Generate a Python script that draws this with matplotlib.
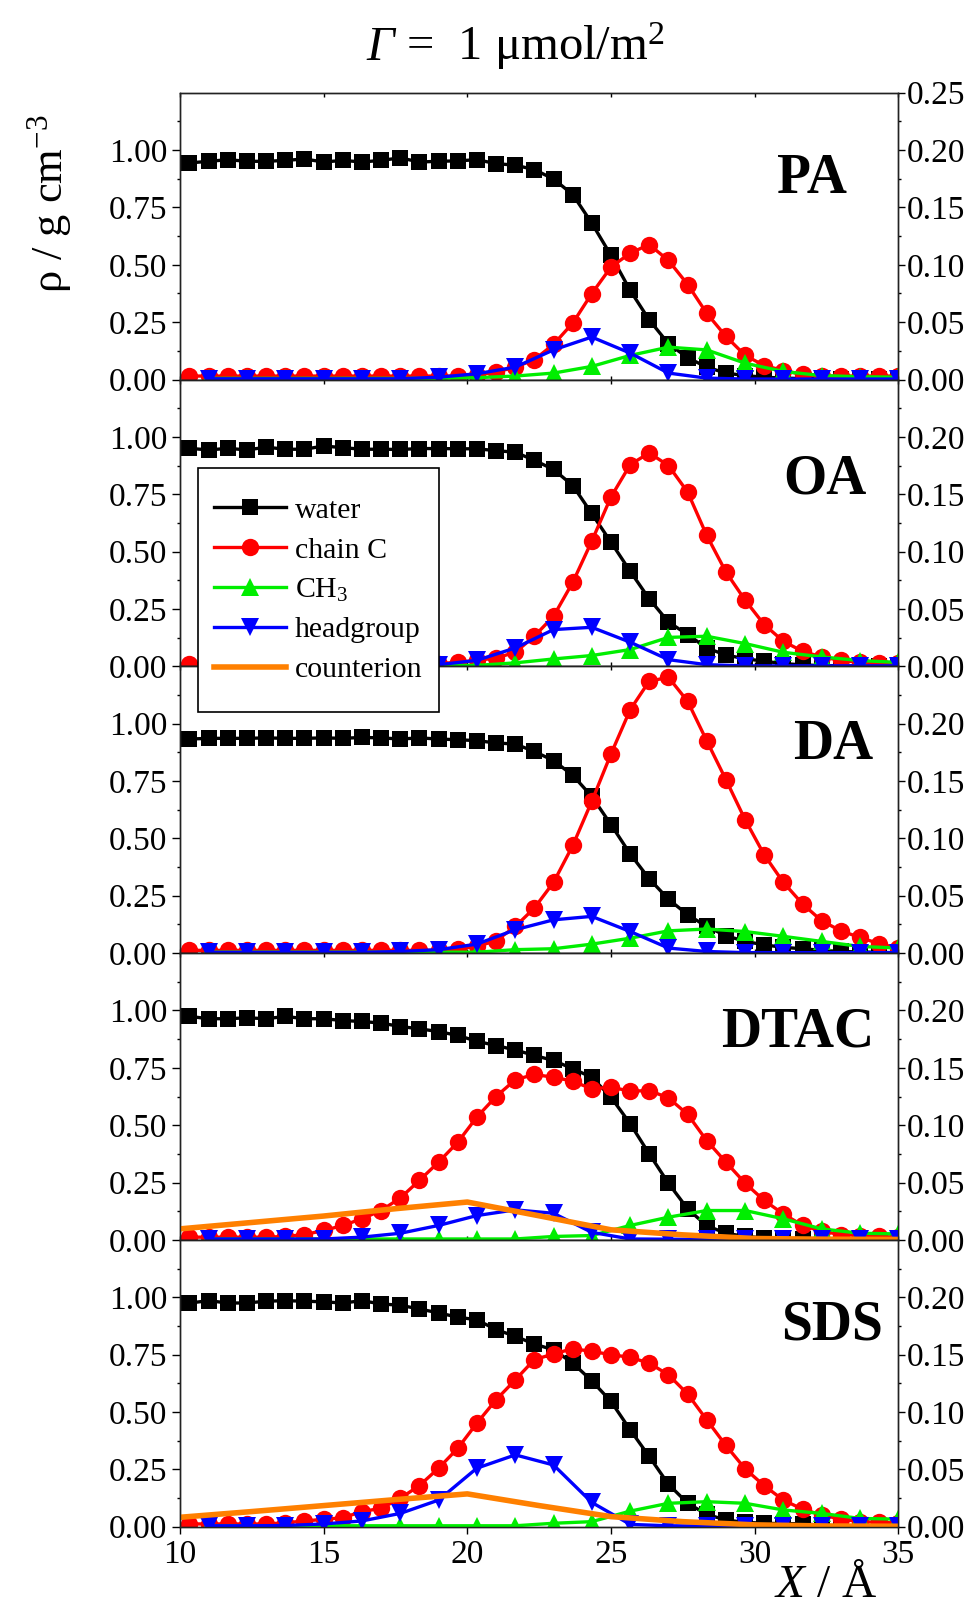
import matplotlib
matplotlib.use("Agg")
import matplotlib.pyplot as plt
from matplotlib.lines import Line2D
from matplotlib.patches import Rectangle

plt.rcParams['font.family'] = ['Liberation Serif', 'DejaVu Serif']
plt.rcParams['mathtext.fontset'] = 'custom'
plt.rcParams['mathtext.rm'] = 'Liberation Serif'
plt.rcParams['mathtext.it'] = 'Liberation Serif:italic'
plt.rcParams['mathtext.bf'] = 'Liberation Serif:bold'

# sampling grids (Å)
x_fine = [10.33, 11.0, 11.67, 12.33, 13.0, 13.67, 14.33, 15.0, 15.67, 16.33,
          17.0, 17.67, 18.33, 19.0, 19.67, 20.33, 21.0, 21.67, 22.33, 23.0,
          23.67, 24.33, 25.0, 25.67, 26.33, 27.0, 27.67, 28.33, 29.0, 29.67,
          30.33, 31.0, 31.67, 32.33, 33.0, 33.67, 34.33, 35.0]
x_coarse = [11.0, 12.33, 13.67, 15.0, 16.33, 17.67, 19.0, 20.33, 21.67, 23.0,
            24.33, 25.67, 27.0, 28.33, 29.67, 31.0, 32.33, 33.67, 35.0]
x_ion = [10, 12.5, 15, 17.5, 20, 22.5, 25, 27.5, 30, 32.5, 35]

# left axis: water and chain C density
pa_water = [.944, .951, .958, .951, .951, .955, .961, .948, .955, .948, .955, .966, .948, .951,
            .953, .958, .941, .934, .915, .874, .806, .682, .541, .388, .260, .156, .095, .054,
            .028, .017, .010, .006, .004, .003, .002, .001, .001, .001]
pa_chain = [.015, .015, .015, .015, .015, .015, .015, .015, .015, .015, .015, .015, .015, .015,
            .015, .020, .032, .054, .086, .153, .246, .374, .490, .551, .588, .519, .414, .289,
            .188, .105, .061, .039, .022, .015, .015, .015, .015, .015]
oa_water = [.950, .943, .950, .943, .955, .946, .946, .960, .953, .946, .946, .945, .949, .949,
            .948, .948, .940, .933, .898, .858, .788, .666, .541, .414, .294, .193, .138, .080,
            .049, .033, .022, .012, .006, .003, .002, .001, .001, .001]
oa_chain = [.012, .012, .012, .012, .012, .012, .012, .012, .012, .012, .012, .012, .012, .012,
            .017, .026, .036, .061, .131, .218, .366, .545, .738, .879, .930, .875, .759, .571,
            .411, .288, .182, .109, .065, .041, .026, .017, .015, .013]
da_water = [.933, .936, .936, .936, .938, .936, .936, .938, .936, .940, .938, .933, .938, .933,
            .930, .926, .916, .911, .879, .839, .775, .683, .560, .432, .324, .235, .167, .116,
            .076, .051, .036, .025, .019, .012, .007, .005, .003, .002]
da_chain = [.012, .012, .012, .012, .012, .012, .012, .012, .012, .012, .012, .012, .012, .012,
            .019, .029, .054, .116, .196, .308, .469, .661, .868, 1.061, 1.185, 1.202, 1.097, .926,
            .756, .581, .429, .308, .214, .141, .097, .068, .041, .022]
dtac_water = [.974, .964, .964, .968, .964, .974, .964, .964, .956, .952, .945, .930, .920, .908,
              .891, .866, .847, .828, .804, .782, .746, .709, .622, .506, .375, .247, .135, .062,
              .029, .015, .009, .006, .004, .003, .002, .002, .001, .001]
dtac_chain = [.012, .012, .012, .012, .012, .015, .023, .041, .063, .092, .128, .183, .259, .339,
              .426, .535, .625, .698, .721, .709, .692, .658, .666, .648, .651, .619, .547, .433,
              .339, .247, .172, .113, .063, .038, .023, .019, .015, .012]
sds_water = [.975, .985, .975, .975, .983, .985, .983, .980, .975, .985, .971, .965, .949, .932,
             .913, .902, .859, .830, .796, .771, .713, .636, .546, .422, .306, .185, .102, .054,
             .029, .019, .015, .013, .013, .006, .004, .003, .002, .002]
sds_chain = [.012, .012, .012, .012, .012, .017, .025, .032, .039, .066, .080, .124, .179, .255,
             .342, .451, .553, .640, .728, .753, .776, .764, .750, .738, .713, .662, .578, .466,
             .354, .252, .179, .116, .076, .051, .033, .022, .019, .016]

# right axis: CH3, headgroup, counterion density
pa_ch3 = [.001, .001, .001, .001, .001, .001, .001, .0016, .003, .0056, .0114, .021, .0282,
          .0258, .0142, .007, .0034, .0024, .002]
pa_head = [.0006, .0006, .0006, .0006, .0006, .0006, .002, .005, .0108, .0258, .037, .023,
           .0056, .0012, .0004, .0004, .0004, .0004, .0004]
oa_ch3 = [.0008, .0008, .0008, .0008, .0008, .0008, .0008, .0008, .003, .0064, .0094, .0146,
          .0252, .0262, .0198, .0122, .0082, .005, .0034]
oa_head = [.0006, .0006, .0006, .0006, .0006, .0006, .0014, .0052, .016, .032, .034, .021,
           .0058, .0014, .0004, .0004, .0004, .0004, .0004]
da_ch3 = [.0008, .0008, .0008, .0008, .0008, .0008, .0008, .0008, .003, .0038, .0078, .013,
          .0194, .021, .0188, .0146, .0102, .0058, .0044]
da_head = [.0006, .0006, .0006, .0006, .0006, .0014, .003, .0078, .0204, .029, .032, .0188,
           .0044, .0014, .0004, .0004, .0004, .0004, .0004]
dtac_ch3 = [.0008, .0008, .0008, .0008, .0008, .0008, .0008, .0008, .0008, .003, .0038, .0126,
            .0198, .0256, .0256, .0184, .0096, .0058, .0052]
dtac_head = [.0008, .0008, .0008, .0008, .0024, .0058, .0126, .0212, .0262, .0232, .0066, .0008,
             .0006, .0004, .0004, .0004, .0004, .0004, .0004]
dtac_ion = [.0096, .0152, .0208, .0272, .033, .021, .0088, .0044, .0012, .0006, .0004]
sds_ch3 = [.0008, .0008, .0008, .0008, .0008, .0008, .0008, .0008, .0008, .003, .0044, .0136,
           .0204, .0218, .0204, .0146, .0116, .0072, .0066]
sds_head = [.0008, .0008, .001, .0024, .005, .0116, .0232, .051, .0626, .0538, .0212, .002,
            .0008, .0006, .0006, .0006, .0006, .0006, .0006]
sds_ion = [.0082, .0132, .0184, .0236, .0286, .0184, .0088, .0044, .0016, .0006, .0004]

panels = [
    ("PA", pa_water, pa_chain, pa_ch3, pa_head, None),
    ("OA", oa_water, oa_chain, oa_ch3, oa_head, None),
    ("DA", da_water, da_chain, da_ch3, da_head, None),
    ("DTAC", dtac_water, dtac_chain, dtac_ch3, dtac_head, dtac_ion),
    ("SDS", sds_water, sds_chain, sds_ch3, sds_head, sds_ion),
]
# name label position (axes coords, right-aligned, baseline)
name_pos = [(0.929, 0.650), (0.956, 0.601), (0.965, 0.677), (0.967, 0.674), (0.979, 0.651)]

c_water, c_chain, c_ch3, c_head, c_ion = 'black', '#ff0000', '#00ee00', '#0000ff', '#ff8000'
lw = 2.4
ms_sq, ms_o, ms_tri = 11, 12.5, 13
tick_fs = 24

W, H = 976, 1611
fig = plt.figure(figsize=(W / 100, H / 100), dpi=100)
left, right_px = 180, 898.3
top_px, ph = 92.7, 286.8

for i, (name, water, chain, ch3, head, ion) in enumerate(panels):
    bottom = 1 - (top_px + (i + 1) * ph) / H
    ax = fig.add_axes([left / W, bottom, (right_px - left) / W, ph / H])
    ax2 = ax.twinx()

    ax.plot(x_fine, water, color=c_water, lw=lw, marker='s', ms=ms_sq, mew=0)
    ax.plot(x_fine, chain, color=c_chain, lw=lw, marker='o', ms=ms_o, mew=0)
    ax2.plot(x_coarse, ch3, color=c_ch3, lw=lw, marker='^', ms=ms_tri, mew=0)
    ax2.plot(x_coarse, head, color=c_head, lw=lw, marker='v', ms=ms_tri, mew=0)
    if ion is not None:
        ax2.plot(x_ion, ion, color=c_ion, lw=4)

    ax.set_xlim(10, 35)
    ax.set_ylim(0, 1.25)
    ax2.set_ylim(0, 0.25)

    ax.set_yticks([0, .25, .5, .75, 1.0])
    ax.set_yticks([.125, .375, .625, .875, 1.125], minor=True)
    ax.set_yticklabels(['0.00', '0.25', '0.50', '0.75', '1.00'])
    if i == 0:
        rt = [0, .05, .10, .15, .20, .25]
    else:
        rt = [0, .05, .10, .15, .20]
    ax2.set_yticks(rt)
    ax2.set_yticklabels(['%.2f' % v for v in rt])
    ax2.set_yticks([.025, .075, .125, .175, .225], minor=True)

    ax.tick_params(axis='y', which='major', direction='out', length=6, width=1,
                   labelsize=tick_fs, pad=3)
    ax.tick_params(axis='y', which='minor', direction='out', length=2.5, width=1)
    ax2.tick_params(axis='y', which='major', direction='out', length=5, width=1,
                    labelsize=tick_fs, pad=1)
    ax2.tick_params(axis='y', which='minor', direction='out', length=2.5, width=1)

    ax.set_xticks([10, 15, 20, 25, 30, 35])
    if i < 4:
        ax.tick_params(axis='x', which='major', direction='in', length=3, width=1,
                       top=True, labelbottom=False)
    else:
        ax.tick_params(axis='x', which='major', direction='out', length=5, width=1,
                       labelsize=tick_fs, pad=4)
    for a in (ax, ax2):
        for s in a.spines.values():
            s.set_color('#222222')
            s.set_linewidth(1.0)

    nx, ny = name_pos[i]
    ax.text(nx, ny, name, transform=ax.transAxes, ha='right', va='baseline',
            fontsize=40, fontweight='bold')

# title, axis labels
fig.text(366 / W, 1 - 60 / H, 'Γ', style='italic', ha='left', va='baseline', fontsize=35)
fig.text(406 / W, 1 - 60 / H, '=  1 μmol/m$^2$', ha='left', va='baseline', fontsize=35)
fig.text(50 / W, 1 - 204 / H, r'ρ / g cm$^{-3}$', rotation=90, ha='center', va='center',
         fontsize=32)
fig.text(826 / W, 1 - 1597 / H, r'$\mathit{X}$ / Å', ha='center', va='baseline', fontsize=34)

# legend: frame drawn as a box, entries placed inside it
box_l, box_t, box_r, box_b = 197.7, 467.7, 439.3, 712.3
fig.add_artist(Rectangle((box_l / W, 1 - box_b / H), (box_r - box_l) / W, (box_b - box_t) / H,
                         transform=fig.transFigure, facecolor='white', edgecolor='black',
                         linewidth=1.2, zorder=4))
handles = [
    Line2D([], [], color=c_water, lw=lw, marker='s', ms=ms_sq, mew=0),
    Line2D([], [], color=c_chain, lw=lw, marker='o', ms=ms_o, mew=0),
    Line2D([], [], color=c_ch3, lw=lw, marker='^', ms=ms_tri, mew=0),
    Line2D([], [], color=c_head, lw=lw, marker='v', ms=ms_tri, mew=0),
    Line2D([], [], color=c_ion, lw=4),
]
labels = ['water', 'chain C', r'CH$_3$', 'headgroup', 'counterion']
leg = fig.legend(handles, labels, loc='center',
                 bbox_to_anchor=((box_l + box_r) / 2 / W, 1 - (box_t + box_b) / 2 / H),
                 borderaxespad=0, fontsize=21.5, numpoints=1, handlelength=2.4,
                 handletextpad=0.3, borderpad=0.3, labelspacing=0.43, frameon=False)
leg.set_zorder(5)

fig.savefig('out.png', dpi=100)
